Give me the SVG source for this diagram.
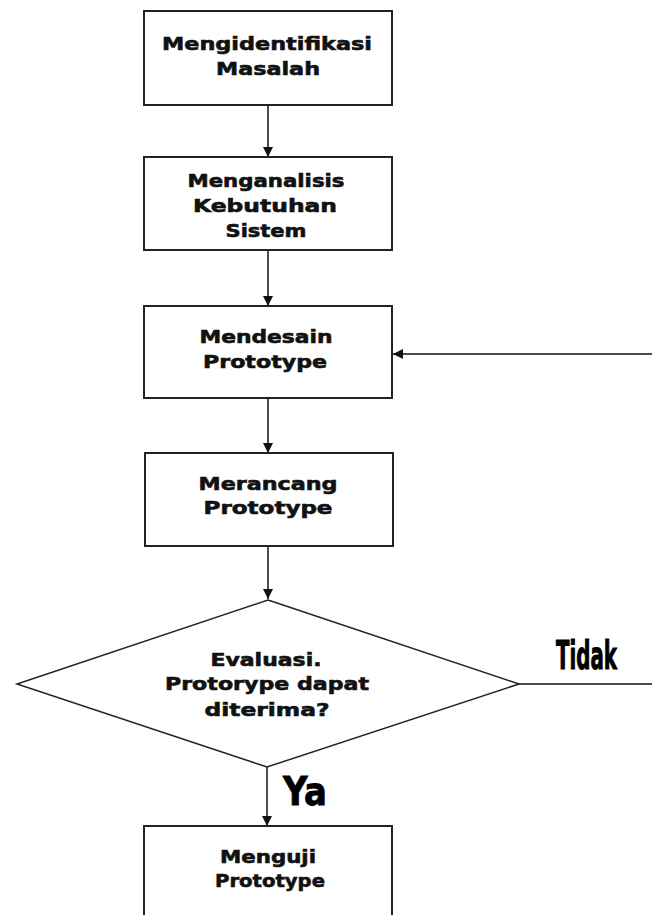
<svg xmlns="http://www.w3.org/2000/svg" width="652" height="915" viewBox="0 0 652 915">
<style>
.box{fill:#fff;stroke:#222;stroke-width:2}
.t{font-family:"DejaVu Sans","Liberation Sans",sans-serif;font-weight:bold;font-size:18px;fill:#111;stroke:#111;stroke-width:0.6;text-anchor:middle}
.big{font-family:"DejaVu Sans Condensed","DejaVu Sans",sans-serif;font-weight:bold;font-size:39px;fill:#000;stroke:#000;stroke-width:0.8}
.ln{stroke:#111;stroke-width:1.5;fill:none}
</style>
<defs>
<marker id="ah" viewBox="0 0 10 10" refX="10" refY="5" markerWidth="11" markerHeight="10" markerUnits="userSpaceOnUse" orient="auto">
<path d="M0,0 L10,5 L0,10 z" fill="#111"/>
</marker>
</defs>
<rect width="652" height="915" fill="#fff"/>
<g id="connectors">
<line class="ln" x1="268" y1="105" x2="268" y2="157" marker-end="url(#ah)"/>
<line class="ln" x1="268" y1="250" x2="268" y2="306" marker-end="url(#ah)"/>
<line class="ln" x1="268" y1="398" x2="268" y2="453" marker-end="url(#ah)"/>
<line class="ln" x1="268" y1="546" x2="268" y2="599" marker-end="url(#ah)"/>
<line class="ln" x1="267" y1="767" x2="267" y2="826" marker-end="url(#ah)"/>
<line class="ln" x1="519" y1="684" x2="652" y2="684"/>
<line class="ln" x1="652" y1="354" x2="393" y2="354" marker-end="url(#ah)"/>
<text class="big" transform="translate(556,669) scale(1,1.95)" x="0" y="0" style="font-size:20px;stroke-width:0.5" textLength="61" lengthAdjust="spacingAndGlyphs">Tidak</text>
<text class="big" x="283" y="805" textLength="44" lengthAdjust="spacingAndGlyphs">Ya</text>
</g>
<g id="n1">
<rect class="box" x="144" y="11" width="248" height="94"/>
<text class="t" x="267" y="50" textLength="210" lengthAdjust="spacingAndGlyphs">Mengidentifikasi</text>
<text class="t" x="268" y="75" textLength="104" lengthAdjust="spacingAndGlyphs">Masalah</text>
</g>
<g id="n2">
<rect class="box" x="144" y="157" width="248" height="93"/>
<text class="t" x="266" y="187" textLength="157" lengthAdjust="spacingAndGlyphs">Menganalisis</text>
<text class="t" x="265" y="212" textLength="144" lengthAdjust="spacingAndGlyphs">Kebutuhan</text>
<text class="t" x="266" y="237" textLength="81" lengthAdjust="spacingAndGlyphs">Sistem</text>
</g>
<g id="n3">
<rect class="box" x="144" y="306" width="248" height="92"/>
<text class="t" x="266" y="343" textLength="133" lengthAdjust="spacingAndGlyphs">Mendesain</text>
<text class="t" x="265" y="368" textLength="124" lengthAdjust="spacingAndGlyphs">Prototype</text>
</g>
<g id="n4">
<rect class="box" x="145" y="453" width="248" height="93"/>
<text class="t" x="268" y="490" textLength="139" lengthAdjust="spacingAndGlyphs">Merancang</text>
<text class="t" x="268" y="514" textLength="129" lengthAdjust="spacingAndGlyphs">Prototype</text>
</g>
<g id="n5">
<polygon class="box" points="268,600 519,684 267,767 17,684" style="stroke-width:1.5"/>
<text class="t" x="266" y="666" textLength="111" lengthAdjust="spacingAndGlyphs">Evaluasi.</text>
<text class="t" x="267" y="690" textLength="204" lengthAdjust="spacingAndGlyphs">Protorype dapat</text>
<text class="t" x="267" y="716" textLength="125" lengthAdjust="spacingAndGlyphs">diterima?</text>
</g>
<g id="n6">
<rect class="box" x="144" y="826" width="248" height="100"/>
<text class="t" x="268" y="863" textLength="96" lengthAdjust="spacingAndGlyphs">Menguji</text>
<text class="t" x="270" y="887" textLength="110" lengthAdjust="spacingAndGlyphs">Prototype</text>
</g>
</svg>
